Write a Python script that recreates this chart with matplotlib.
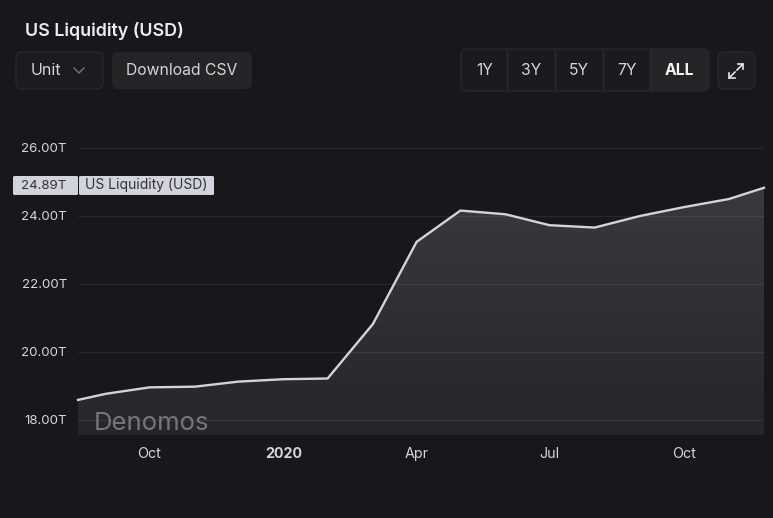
import numpy as np
import pandas as pd
import matplotlib
matplotlib.use("Agg")
import matplotlib.pyplot as plt
import matplotlib.dates as mdates
from matplotlib.patches import FancyBboxPatch

# values in trillions
dates = ["2019-08-13", "2019-09-01", "2019-10-01", "2019-11-01", "2019-12-01", "2020-01-01",
         "2020-01-31", "2020-03-02", "2020-04-01", "2020-05-01", "2020-06-01", "2020-07-01",
         "2020-08-01", "2020-09-01", "2020-10-01", "2020-11-01", "2020-11-25"]
liquidity = [18.59, 18.77, 18.96, 18.98, 19.13, 19.20, 19.22, 20.82, 23.24, 24.16, 24.05, 23.73,
             23.66, 24.00, 24.26, 24.50, 24.83]
y_ticks = [18, 20, 22, 24, 26]
x_tick_dates = ["2019-10-01", "2020-01-01", "2020-04-01", "2020-07-01", "2020-10-01"]
x_tick_labels = ["Oct", "2020", "Apr", "Jul", "Oct"]
ranges = ["1Y", "3Y", "5Y", "7Y", "ALL"]
range_edges = [462, 507, 555, 603, 650, 708]
last_label = "24.89T"
series_name = "US Liquidity (USD)"

W, H = 773, 518
BG = "#17171c"
plt.rcParams["font.family"] = ["Inter", "DejaVu Sans"]

fig = plt.figure(figsize=(W / 100, H / 100), dpi=100, facecolor=BG)

# overlay in pixel coordinates for the page controls
ui = fig.add_axes([0, 0, 1, 1], zorder=3)
ui.set_xlim(0, W)
ui.set_ylim(H, 0)
ui.axis("off")
ui.patch.set_alpha(0)


def button(x0, y0, x1, y1, face, edge="none", r=6):
    p = FancyBboxPatch((x0 + r, y0 + r), x1 - x0 - 2 * r, y1 - y0 - 2 * r,
                       boxstyle="round,pad=%d,rounding_size=%d" % (r, r),
                       fc=face, ec=edge, lw=0.8)
    ui.add_patch(p)


ax = fig.add_axes([78 / W, 1 - 435 / H, (764 - 78) / W, (435 - 130) / H], facecolor=BG)
x = pd.to_datetime(dates)
y = np.array(liquidity)
ymin, ymax = 18 - 15 / 34, 18 + (420 - 130) / 34

# area with a vertical fade, clipped below the line
grad = np.linspace(0, 1, 256).reshape(-1, 1)
cmap = matplotlib.colors.LinearSegmentedColormap.from_list("fade", ["#26262a", "#3a3a3e"])
im = ax.imshow(grad, aspect="auto", cmap=cmap, origin="lower", zorder=1,
               extent=[mdates.date2num(x[0]), mdates.date2num(x[-1]), ymin, 24.9])
poly = ax.fill_between(x, y, ymin, color="none")
im.set_clip_path(poly.get_paths()[0], transform=ax.transData)
ax.set_xlim(x[0], x[-1])
ax.set_ylim(ymin, ymax)

for t in y_ticks:
    ax.axhline(t, color="#ffffff", alpha=0.07, lw=0.9, zorder=2)
ax.plot(x, y, color="#d4d4d8", lw=1.7, zorder=4, solid_joinstyle="round", clip_on=False)

for s in ax.spines.values():
    s.set_visible(False)
ax.set_yticks(y_ticks)
ax.set_yticklabels(["%.2fT" % t for t in y_ticks], fontsize=9.6, color="#d6d6da")
ax.tick_params(axis="y", length=0, pad=8)
ax.set_xticks(pd.to_datetime(x_tick_dates))
ax.set_xticklabels(x_tick_labels, fontsize=10.3, color="#d6d6da", va="center")
ax.get_xticklabels()[1].set_fontweight("bold")
ax.tick_params(axis="x", length=0, pad=13.5)

ui.text(94, 423.5, "Denomos", fontsize=18.5, color="#77777b", va="center", ha="left")

# title and controls
ui.text(25, 31, series_name, fontsize=12.9, color="#ececef", va="center", fontweight="semibold")
button(16, 52, 103, 89, "#1c1c20", "#2b2b30")
ui.text(31, 70.5, "Unit", fontsize=11.5, color="#d6d6da", va="center")
ui.plot([74, 79, 84], [68, 73, 68], color="#77777b", lw=1)
button(112, 52, 252, 89, "#252528")
ui.text(126, 70.5, "Download CSV", fontsize=11.3, color="#d6d6da", va="center")

button(461, 49, 709, 91, "#1a1a1f", "#2b2b30")
button(650, 49.5, 708.5, 90.5, "#252528")
ui.fill_between([650, 660], 49.5, 90.5, color="#252528", lw=0)
for e in range_edges[1:-1]:
    ui.plot([e, e], [50, 90], color="#2b2b30", lw=0.9)
for i, r in enumerate(ranges):
    bold = r == "ALL"
    ui.text((range_edges[i] + range_edges[i + 1]) / 2, 70.5, r, fontsize=11.3, ha="center", va="center",
            color="#f4f4f6" if bold else "#d6d6da", fontweight="bold" if bold else "normal")

# expand icon, two arrows pointing apart
button(718, 52, 755, 89, "#1f1f23", "#2b2b30")
ui.plot([729, 735], [78, 72], color="#e6e6e9", lw=1.2)
ui.plot([729, 729, 735], [73, 78, 78], color="#e6e6e9", lw=1.2)
ui.plot([737, 743], [70, 64], color="#e6e6e9", lw=1.2)
ui.plot([738, 743, 743], [64, 64, 69], color="#e6e6e9", lw=1.2)

# last value tags on the axis
ui.add_patch(FancyBboxPatch((13, 176), 65, 19, boxstyle="round,pad=0,rounding_size=1.5", fc="#d1d4dc", ec="none"))
ui.add_patch(FancyBboxPatch((79, 176), 135, 19, boxstyle="round,pad=0,rounding_size=1.5", fc="#d1d4dc", ec="none"))
ui.text(66, 186, last_label, fontsize=9.6, color="#33343a", va="center", ha="right")
ui.text(85, 185.5, series_name, fontsize=10, color="#33343a", va="center", ha="left")

fig.savefig("out.png", dpi=100, facecolor=BG)
